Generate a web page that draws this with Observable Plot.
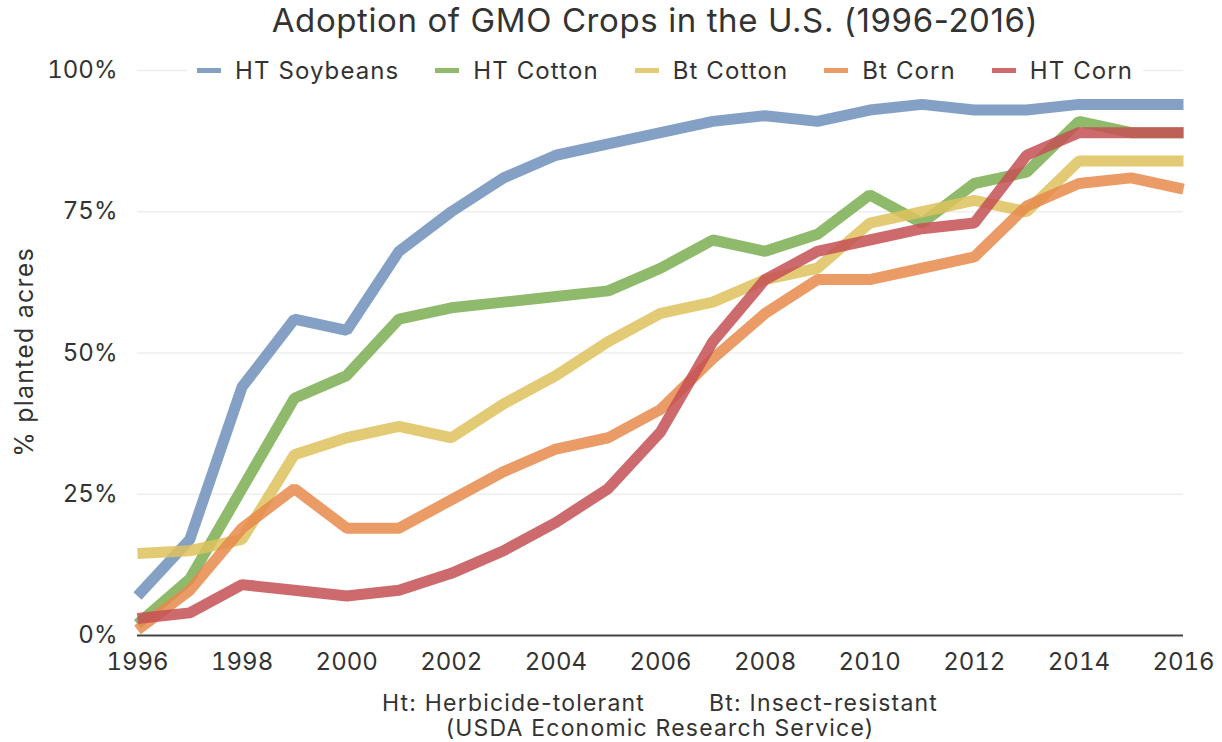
<!DOCTYPE html>
<html><head><meta charset="utf-8">
<script src="https://cdn.jsdelivr.net/npm/d3@7"></script>
<script src="https://cdn.jsdelivr.net/npm/@observablehq/plot@0.6"></script>
<style>
html,body{margin:0;padding:0;background:#fff;overflow:hidden}
body{font-family:Inter,"Open Sans",sans-serif;color:#333}
#wrap{position:relative;width:1222px;height:742px}
#title{position:absolute;top:0px;left:155px;width:1000px;text-align:center;font-size:33px;letter-spacing:0.6px;color:#333;white-space:nowrap}
#chart{position:absolute;top:50px;left:0}
#legend{position:absolute;top:55px;left:187px;height:30px;display:flex;align-items:center;background:#fff;padding:0 10px;font-size:24px;letter-spacing:1.1px;color:#333;white-space:nowrap}
#legend .item{display:flex;align-items:center;margin-right:36px}
#legend .item:last-child{margin-right:0}
#legend .sw{display:inline-block;width:24px;height:5px;margin-right:14px}
#ylabel{position:absolute;left:24px;top:352px;transform:translate(-50%,-50%) rotate(-90deg);font-size:25px;letter-spacing:1.2px;white-space:nowrap;color:#333}
#cap1,#cap2{position:absolute;left:160px;width:1000px;text-align:center;font-size:23px;letter-spacing:1.2px;color:#333;white-space:nowrap}
#cap1{top:689px}
#cap2{top:714px}
</style></head>
<body>
<div id="wrap">
  <div id="title">Adoption of GMO Crops in the U.S. (1996-2016)</div>
  <div id="chart"></div>
  <div id="legend"></div>
  <div id="ylabel">% planted acres</div>
  <div id="cap1">Ht: Herbicide-tolerant<span style="display:inline-block;width:64px"></span>Bt: Insect-resistant</div>
  <div id="cap2">(USDA Economic Research Service)</div>
</div>
<script>
const years = [1996,1997,1998,1999,2000,2001,2002,2003,2004,2005,2006,2007,2008,2009,2010,2011,2012,2013,2014,2015,2016];
const seriesNames = ["HT Soybeans","HT Cotton","Bt Cotton","Bt Corn","HT Corn"];
const seriesColors = ["#6f90bb","#7bae51","#dec25d","#e7894b","#c45055"];
const htSoybeans = [7,17,44,56,54,68,75,81,85,87,89,91,92,91,93,94,93,93,94,94,94];
const htCotton   = [2,10,26,42,46,56,58,59,60,61,65,70,68,71,78,73,80,82,91,89,89];
const btCotton   = [14.5,15,17,32,35,37,35,41,46,52,57,59,63,65,73,75,77,75,84,84,84];
const btCorn     = [1,8,19,26,19,19,24,29,33,35,40,49,57,63,63,65,67,76,80,81,79];
const htCorn     = [3,4,9,8,7,8,11,15,20,26,36,52,63,68,70,72,73,85,89,89,89];
const yTicks = [0,0.25,0.5,0.75,1];
const xTicks = [1996,1998,2000,2002,2004,2006,2008,2010,2012,2014,2016];

const seriesValues = [htSoybeans, htCotton, btCotton, btCorn, htCorn];
const data = [];
seriesNames.forEach((name, i) => {
  years.forEach((yr, j) => data.push({crop: name, year: yr, share: seriesValues[i][j] / 100}));
});

const chart = Plot.plot({
  width: 1222,
  height: 640,
  marginLeft: 137,
  marginRight: 39,
  marginTop: 20,
  marginBottom: 55,
  style: {fontFamily: "Inter, 'Open Sans', sans-serif", fontSize: "24px", color: "#333", background: "#fff"},
  x: {domain: [1996, 2016], ticks: xTicks, tickFormat: d => String(d), tickSize: 0, tickPadding: 17, label: null},
  y: {domain: [0, 1], ticks: yTicks, tickFormat: d3.format(".0%"), tickSize: 0, tickPadding: 20, label: null},
  color: {domain: seriesNames, range: seriesColors},
  marks: [
    Plot.ruleY(yTicks.slice(1), {stroke: "#eeeeee", strokeWidth: 1.5}),
    Plot.ruleY([0], {stroke: "#444", strokeWidth: 2}),
    Plot.line(data, {x: "year", y: "share", z: "crop", stroke: "crop", strokeWidth: 11, strokeOpacity: 0.85, strokeLinejoin: "miter", strokeLinecap: "butt"})
  ]
});
document.getElementById("chart").appendChild(chart);

const legend = document.getElementById("legend");
seriesNames.forEach((name, i) => {
  const it = document.createElement("div");
  it.className = "item";
  const sw = document.createElement("span");
  sw.className = "sw";
  sw.style.background = seriesColors[i];
  sw.style.opacity = 0.85;
  it.appendChild(sw);
  it.appendChild(document.createTextNode(name));
  legend.appendChild(it);
});
</script>
</body></html>
